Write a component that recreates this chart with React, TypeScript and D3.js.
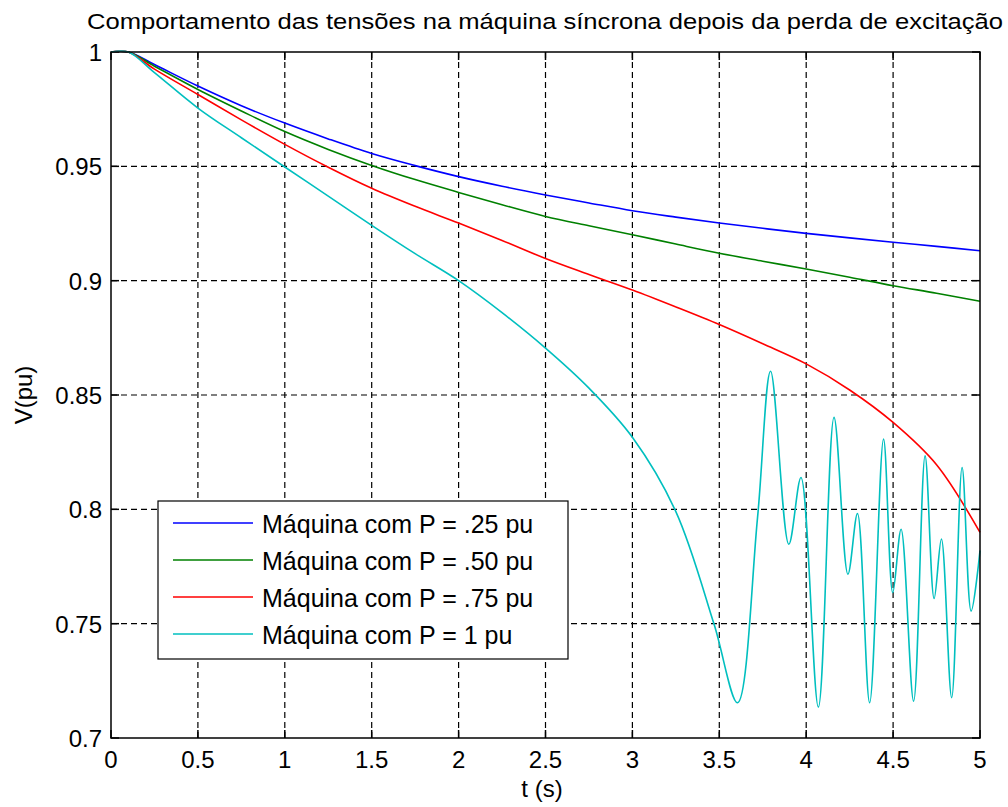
import React from 'react';
import * as d3 from 'd3';

// time base shared by the smooth curves (s)
const timeBase = [0, 0.1, 0.25, 0.5, 0.75, 1, 1.25, 1.5, 1.75, 2, 2.25, 2.5, 2.75, 3, 3.25, 3.5, 3.75, 4, 4.25, 4.5, 4.75, 5];

const vP25 = [1, 1, 0.9945, 0.9851, 0.9765, 0.9689, 0.962, 0.9556, 0.9503, 0.9455, 0.9413, 0.9375, 0.934, 0.9306, 0.9278, 0.9252, 0.9229, 0.9207, 0.9187, 0.9168, 0.915, 0.9131];
const vP50 = [1, 1, 0.9938, 0.9836, 0.9742, 0.9652, 0.9574, 0.9504, 0.9442, 0.9386, 0.9332, 0.9281, 0.924, 0.9201, 0.916, 0.912, 0.9085, 0.9051, 0.9015, 0.8978, 0.8945, 0.891];
const vP75 = [1, 1, 0.9925, 0.9814, 0.9703, 0.9596, 0.9496, 0.9404, 0.9325, 0.9252, 0.9176, 0.9097, 0.9027, 0.8959, 0.8885, 0.8808, 0.8724, 0.8636, 0.8522, 0.838, 0.8195, 0.7899];

// P = 1 pu loses synchronism, so it gets its own time points
const timeP1 = [0, 0.1, 0.25, 0.5, 0.75, 1, 1.25, 1.5, 1.75, 2, 2.25, 2.5, 2.75, 3, 3.25,
  3.47, 3.605, 3.72, 3.795, 3.9, 3.97, 4.07, 4.16, 4.24, 4.295, 4.365, 4.445, 4.498, 4.546,
  4.618, 4.684, 4.736, 4.778, 4.837, 4.897, 4.949, 5];
const vP1 = [1, 1, 0.991, 0.9755, 0.9625, 0.9497, 0.937, 0.9242, 0.9118, 0.9, 0.886, 0.8705, 0.853, 0.8315, 0.799,
  0.7497, 0.7154, 0.7964, 0.8604, 0.7847, 0.8139, 0.7135, 0.8402, 0.7716, 0.7982, 0.7154, 0.8307, 0.7636, 0.7913,
  0.7161, 0.8234, 0.761, 0.787, 0.7176, 0.8183, 0.7555, 0.782];

const seriesNames = ['Máquina com P = .25 pu', 'Máquina com P = .50 pu', 'Máquina com P = .75 pu', 'Máquina com P = 1 pu'];
const seriesColors = ['#0000ff', '#008000', '#ff0000', '#00bfbf'];

const xTicks = [0, 0.5, 1, 1.5, 2, 2.5, 3, 3.5, 4, 4.5, 5];
const yTicks = [0.7, 0.75, 0.8, 0.85, 0.9, 0.95, 1];

const title = 'Comportamento das tensões na máquina síncrona depois da perda de excitação';

const W = 1008;
const H = 807;
const left = 111;
const right = 980;
const top = 52;
const bottom = 738;
const font = '"Liberation Sans", Arial, sans-serif';

export default function App() {
  const x = d3.scaleLinear().domain([0, 5]).range([left, right]);
  const y = d3.scaleLinear().domain([0.7, 1]).range([bottom, top]);

  const line = d3.line<[number, number]>()
    .x(d => x(d[0]))
    .y(d => y(d[1]))
    .curve(d3.curveCatmullRom.alpha(0.5));

  const series = [
    timeBase.map((t, i) => [t, vP25[i]] as [number, number]),
    timeBase.map((t, i) => [t, vP50[i]] as [number, number]),
    timeBase.map((t, i) => [t, vP75[i]] as [number, number]),
    timeP1.map((t, i) => [t, vP1[i]] as [number, number]),
  ];

  const fmtY = (v: number) => (v === 1 ? '1' : String(v));
  const tickLen = 8;

  const legX = 158;
  const legY = 501;
  const legW = 410;
  const legH = 158;
  const rowH = 37;

  return (
    <svg width={W} height={H} style={{ position: 'absolute', left: 0, top: 0, background: '#fff' }}>
      <rect x={0} y={0} width={W} height={H} fill="#fff" />
      <text x={87} y={29} fontFamily={font} fontSize={22} textLength={916} lengthAdjust="spacingAndGlyphs">
        {title}
      </text>

      {/* grid */}
      <g stroke="#000" strokeWidth={1.2} strokeDasharray="6,4">
        {xTicks.slice(1, -1).map(t => (
          <line key={'gx' + t} x1={x(t)} x2={x(t)} y1={top} y2={bottom} />
        ))}
        {yTicks.slice(1, -1).map(v => (
          <line key={'gy' + v} x1={left} x2={right} y1={y(v)} y2={y(v)} />
        ))}
      </g>

      {/* ticks */}
      <g stroke="#000" strokeWidth={1.5}>
        {xTicks.map(t => (
          <g key={'tx' + t}>
            <line x1={x(t)} x2={x(t)} y1={bottom} y2={bottom - tickLen} />
            <line x1={x(t)} x2={x(t)} y1={top} y2={top + tickLen} />
          </g>
        ))}
        {yTicks.map(v => (
          <g key={'ty' + v}>
            <line x1={left} x2={left + tickLen} y1={y(v)} y2={y(v)} />
            <line x1={right} x2={right - tickLen} y1={y(v)} y2={y(v)} />
          </g>
        ))}
      </g>

      {/* curves */}
      <g fill="none" strokeWidth={1.6} strokeLinejoin="round">
        {series.map((s, i) => (
          <path key={i} d={line(s) || ''} stroke={seriesColors[i]} />
        ))}
      </g>

      <rect x={left} y={top} width={right - left} height={bottom - top} fill="none" stroke="#000" strokeWidth={1.5} />

      {/* tick labels */}
      <g fontFamily={font} fontSize={24} fill="#000">
        {xTicks.map(t => (
          <text key={'lx' + t} x={x(t)} y={768} textAnchor="middle">{String(t)}</text>
        ))}
        {yTicks.map(v => (
          <text key={'ly' + v} x={102} y={y(v) + 9} textAnchor="end">{fmtY(v)}</text>
        ))}
      </g>

      <text x={542} y={797} textAnchor="middle" fontFamily={font} fontSize={24}>t (s)</text>
      <text transform={`translate(32, ${(top + bottom) / 2}) rotate(-90)`} textAnchor="middle" fontFamily={font} fontSize={24}>V(pu)</text>

      {/* legend */}
      <rect x={legX} y={legY} width={legW} height={legH} fill="#fff" stroke="#000" strokeWidth={1.2} />
      {seriesNames.map((name, i) => {
        const cy = legY + 22 + i * rowH;
        return (
          <g key={name}>
            <line x1={173} x2={253} y1={cy} y2={cy} stroke={seriesColors[i]} strokeWidth={1.6} />
            <text x={262} y={cy + 10} fontFamily={font} fontSize={25} fill="#000">{name}</text>
          </g>
        );
      })}
    </svg>
  );
}
